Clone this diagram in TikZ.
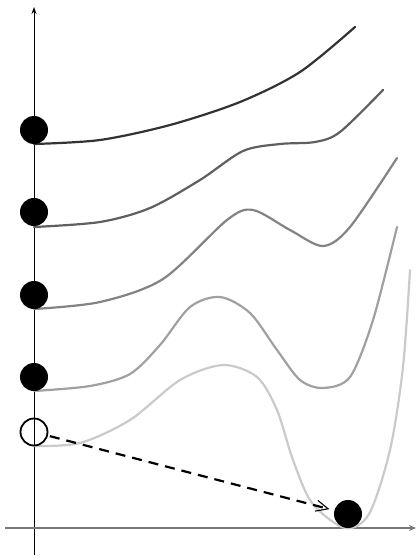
\documentclass[tikz,border=0pt]{standalone}
\usepackage{tikz}
\usetikzlibrary{arrows.meta}
\definecolor{curveA}{HTML}{333333}
\definecolor{curveB}{HTML}{5F5F5F}
\definecolor{curveC}{HTML}{838383}
\definecolor{curveD}{HTML}{A0A0A0}
\definecolor{curveE}{HTML}{CACACA}
\definecolor{axisgray}{HTML}{777777}
\begin{document}
\begin{tikzpicture}[x=1pt,y=-1pt,ball/.style={circle,fill=black,minimum size=28pt,inner sep=0pt},emptyball/.style={circle,draw=black,line width=1.8pt,minimum size=27pt,inner sep=0pt},landscape/.style={line width=2.2pt,line cap=round}]
\useasboundingbox (0,0) rectangle (419,556);
% axes
\coordinate (ybot) at (34,555);\coordinate (ytop) at (34,7);\coordinate (xleft) at (5,528);\coordinate (xright) at (416,528);
\draw[-{Stealth[length=7pt,width=5pt]},line width=.9pt] (ybot)--(ytop);
\draw[axisgray,-{Stealth[length=7pt,width=6pt]},line width=1.6pt] (xleft)--(xright);
% energy landscapes
\draw[landscape,curveA] plot[smooth] coordinates {(34,144) (100,140) (170,125) (240,102) (300,72) (355,27)};
\draw[landscape,curveB] plot[smooth] coordinates {(34,227) (100,222) (150,208) (200,180) (243,151) (280,144) (315,142) (340,132) (383,90)};
\draw[landscape,curveC] plot[smooth] coordinates {(34,309) (100,302) (163,279) (227,220) (253,210) (290,230) (323,246) (350,227) (397,158)};
\draw[landscape,curveD] plot[smooth] coordinates {(34,391) (90,386) (130,374) (160,345) (190,307) (220,297) (250,313) (277,350) (300,380) (323,388) (350,377) (373,320) (397,227)};
\draw[landscape,curveE] plot[smooth] coordinates {(34,446) (80,443) (130,420) (180,380) (223,365) (257,377) (277,410) (293,460) (312,503) (345,528) (369,514) (390,450) (403,367) (410,270)};
% balls
\node[ball] (b1) at (34,130) {};\node[ball] (b2) at (34,212) {};\node[ball] (b3) at (34,295) {};\node[ball] (b4) at (34,377) {};
\node[emptyball] (start) at (34,432) {};\node[ball] (final) at (348,514) {};
\draw[dashed,dash pattern=on 10pt off 7pt,line width=2.2pt,-{Straight Barb[length=12pt,width=11pt,line width=1.1pt]},shorten >=5pt,shorten <=2pt] (start)--(final);
\end{tikzpicture}
\end{document}
